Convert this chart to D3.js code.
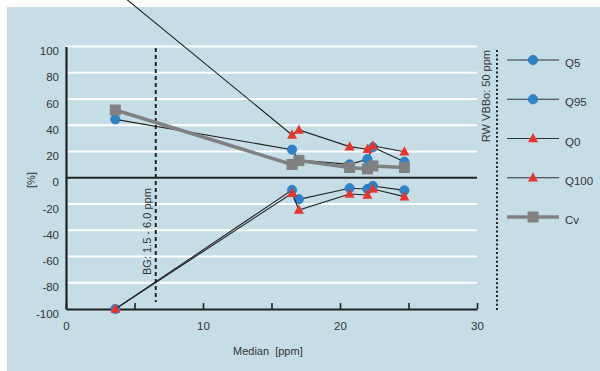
<!DOCTYPE html>
<html>
<head>
<meta charset="utf-8">
<script src="https://cdn.jsdelivr.net/npm/d3@7"></script>
<style>
  html, body { margin: 0; padding: 0; background: #ffffff; }
  svg { display: block; font-family: "Liberation Sans", Arial, sans-serif; }
</style>
</head>
<body>
<svg id="chart" width="600" height="371"></svg>
<script>
// Median concentration of each group [ppm]
const medians = [3.6, 16.5, 17.0, 20.7, 22.0, 22.4, 24.7];

// Deviation of each statistic from the median [%]
const q5   = [-100, -9.3, -16.4, -8.0, -8.6, -6.3, -9.6];
const q95  = [44.5, 21.4, 13.5, 10.2, 14.1, 23.2, 12.2];
const q0   = [-100, -11.8, -24.6, -12.4, -13.1, -8.6, -14.4];
const q100 = [143, 32.6, 36.4, 23.7, 21.7, 24.4, 19.8];
const cv   = [51.6, 10.1, 13.1, 7.8, 6.7, 9.0, 7.8];

const seriesNames = ["Q5", "Q95", "Q0", "Q100", "Cv"];
const yTicks = [-100, -80, -60, -40, -20, 0, 20, 40, 60, 80, 100];
const xTicks = [0, 5, 10, 15, 20, 25, 30];
const xLabels = [0, 10, 20, 30];

// reference levels [ppm]
const bgLimit = 6.55;
const rwLimit = 50;

const svg = d3.select("#chart");
const x = d3.scaleLinear().domain([0, 30]).range([66, 477]);
const y = d3.scaleLinear().domain([-100, 100]).range([309, 46.5]);

const panelColor = "#c6dde6";
const ink = "#222";
const textColor = "#333";

// background panel
svg.append("rect")
  .attr("x", 7).attr("y", 7).attr("width", 593).attr("height", 364)
  .attr("fill", panelColor);

// white gridlines
svg.append("g").selectAll("line")
  .data(yTicks.filter(v => v !== 0 && v !== -100))
  .join("line")
  .attr("x1", x(0)).attr("x2", x(30))
  .attr("y1", d => y(d)).attr("y2", d => y(d))
  .attr("stroke", "#ffffff").attr("stroke-width", 2);

// y axis (plain hyphen for negatives, labels sit slightly below their line)
const yAxis = svg.append("g")
  .attr("transform", `translate(${x(0)},0)`)
  .call(d3.axisLeft(y).tickValues(yTicks).tickSize(0).tickPadding(7)
    .tickFormat(d => String(d)));
yAxis.select(".domain").attr("stroke", ink).attr("stroke-width", 2.2);
yAxis.selectAll("text").attr("font-size", 11.5).attr("fill", textColor)
  .attr("y", 4.5)
  .attr("font-family", "Liberation Sans, Arial, sans-serif");

// x axis at the bottom
const xAxis = svg.append("g")
  .attr("transform", `translate(0,${y(-100)})`)
  .call(d3.axisBottom(x).tickValues(xTicks).tickSizeInner(-6).tickSizeOuter(0)
    .tickPadding(12.5).tickFormat(d => xLabels.includes(d) ? String(d) : ""));
xAxis.select(".domain").attr("stroke", ink).attr("stroke-width", 2.2);
xAxis.selectAll(".tick line").attr("stroke", ink).attr("stroke-width", 1.6);
xAxis.selectAll("text").attr("font-size", 11.5).attr("fill", textColor)
  .attr("font-family", "Liberation Sans, Arial, sans-serif");

// zero line
svg.append("line")
  .attr("x1", x(0)).attr("x2", x(30))
  .attr("y1", y(0)).attr("y2", y(0))
  .attr("stroke", ink).attr("stroke-width", 2.2);

// background range marker
svg.append("line")
  .attr("x1", x(bgLimit)).attr("x2", x(bgLimit))
  .attr("y1", 48).attr("y2", 302)
  .attr("stroke", ink).attr("stroke-width", 2)
  .attr("stroke-dasharray", "4,3");
svg.append("text")
  .attr("transform", `translate(${x(bgLimit) - 4.5},275) rotate(-90)`)
  .attr("font-size", 11).attr("fill", textColor)
  .text("BG: 1.5 - 6.0 ppm");

// RW VBBo marker at the right
svg.append("line")
  .attr("x1", 497).attr("x2", 497)
  .attr("y1", 50).attr("y2", 310)
  .attr("stroke", ink).attr("stroke-width", 2)
  .attr("stroke-dasharray", "2,2.3");
svg.append("text")
  .attr("transform", `translate(490,50) rotate(-90)`)
  .attr("text-anchor", "end")
  .attr("font-size", 11).attr("fill", textColor)
  .text("RW VBBo: " + rwLimit + " ppm");

// axis titles
svg.append("text")
  .attr("x", 233).attr("y", 355)
  .attr("font-size", 11).attr("fill", textColor)
  .attr("xml:space", "preserve")
  .text("Median  [ppm]");
svg.append("text")
  .attr("transform", "translate(35,180) rotate(-90)")
  .attr("text-anchor", "middle")
  .attr("font-size", 11).attr("fill", textColor)
  .text("[%]");

// series definitions
const series = [
  { name: "Q5",   values: q5,   shape: "circle",   line: ink,    lw: 1.1 },
  { name: "Q95",  values: q95,  shape: "circle",   line: ink,    lw: 1.1 },
  { name: "Q0",   values: q0,   shape: "triangle", line: ink,    lw: 1.1 },
  { name: "Q100", values: q100, shape: "triangle", line: ink,    lw: 1.1 },
  { name: "Cv",   values: cv,   shape: "square",   line: "#808080", lw: 3.5 }
];

const blue = "#2c83cc";
const red = "#e8352c";
const grey = "#808080";

function drawMarker(g, shape, cx, cy) {
  if (shape === "circle") {
    g.append("circle").attr("cx", cx).attr("cy", cy).attr("r", 4.7)
      .attr("fill", blue).attr("stroke", "#1f6fb0").attr("stroke-width", 0.6);
  } else if (shape === "triangle") {
    g.append("path")
      .attr("d", `M${cx},${cy - 5.5}L${cx + 5},${cy + 3.8}L${cx - 5},${cy + 3.8}Z`)
      .attr("fill", red);
  } else {
    g.append("rect").attr("x", cx - 5.5).attr("y", cy - 5.5)
      .attr("width", 11).attr("height", 11).attr("fill", grey);
  }
}

const line = d3.line().x(d => x(d[0])).y(d => y(d[1]));

series.forEach(s => {
  const pts = medians.map((m, i) => [m, s.values[i]]);
  const g = svg.append("g");
  g.append("path").attr("d", line(pts))
    .attr("fill", "none").attr("stroke", s.line).attr("stroke-width", s.lw);
  pts.forEach(p => drawMarker(g, s.shape, x(p[0]), y(p[1])));
});

// legend
const legendY = d3.scalePoint().domain(seriesNames).range([60, 217]);
series.forEach(s => {
  const g = svg.append("g");
  const ly = legendY(s.name);
  g.append("line").attr("x1", 507).attr("x2", 559).attr("y1", ly).attr("y2", ly)
    .attr("stroke", s.name === "Cv" ? grey : "#333")
    .attr("stroke-width", s.name === "Cv" ? 3.5 : 1.2);
  drawMarker(g, s.shape, 533, ly);
  g.append("text").attr("x", 565).attr("y", ly + 7)
    .attr("font-size", 11.5).attr("fill", textColor).text(s.name);
});
</script>
</body>
</html>
